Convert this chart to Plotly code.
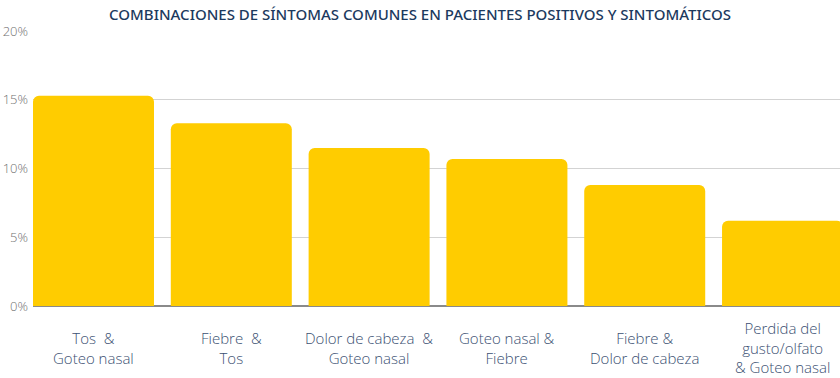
import plotly.graph_objects as go

categories = ["Tos  &<br>Goteo nasal", "Fiebre  &<br>Tos", "Dolor de cabeza  &<br>Goteo nasal",
              "Goteo nasal &<br>Fiebre", "Fiebre &<br>Dolor de cabeza",
              "Perdida del<br>gusto/olfato<br>& Goteo nasal"]
values = [15.3, 13.3, 11.5, 10.7, 8.8, 6.2]
y_ticks = [0, 5, 10, 15, 20]
y_tick_labels = ["0%", "5%", "10%", "15%", "20%"]

idx = list(range(len(categories)))

fig = go.Figure(go.Bar(
    x=idx, y=values, width=0.878,
    marker=dict(color="#FFCC00", line=dict(width=0)),
    hoverinfo="skip",
))

annotations = []
for i, c in zip(idx, categories):
    annotations.append(dict(
        x=i, y=-0.152, xref="x", yref="paper", text=c, showarrow=False,
        xanchor="center", yanchor="middle", align="center",
        font=dict(family="Open Sans", size=15, color="#3B5072", weight=300),
    ))

fig.update_layout(
    width=840, height=378,
    margin=dict(l=33, r=0, t=31, b=72),
    paper_bgcolor="white", plot_bgcolor="white",
    barcornerradius=6,
    showlegend=False,
    title=dict(text="COMBINACIONES DE SÍNTOMAS COMUNES EN PACIENTES POSITIVOS Y SINTOMÁTICOS",
               x=0.5, xanchor="center", y=0.962, yanchor="middle",
               font=dict(family="Noto Sans", size=15, color="#1C3A5E", weight=500)),
    xaxis=dict(range=[-0.439, 5.417], showticklabels=False, showgrid=False,
               zeroline=False, showline=False, fixedrange=True),
    yaxis=dict(range=[0, 20], tickvals=y_ticks, ticktext=y_tick_labels,
               showgrid=True, gridcolor="#D3D3D3", gridwidth=1,
               zeroline=True, zerolinecolor="#8A8A8A", zerolinewidth=1.5,
               tickfont=dict(family="Open Sans", size=13, color="#707070", weight=300),
               ticklabelstandoff=4, fixedrange=True),
    annotations=annotations,
)

fig.write_html("out.html", config={"displayModeBar": False},
               post_script="document.body.style.margin='0';document.body.style.overflow='hidden';")
